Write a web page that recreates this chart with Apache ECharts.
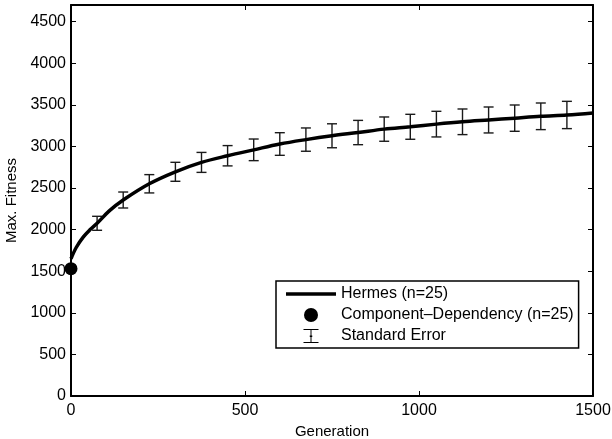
<!DOCTYPE html>
<html>
<head>
<meta charset="utf-8">
<script src="https://cdn.jsdelivr.net/npm/echarts@6/dist/echarts.min.js"></script>
<style>html,body{margin:0;padding:0;background:#fff;}#c{width:612px;height:439px;}</style>
</head>
<body>
<div id="c"></div>
<script>
// Hermes mean curve (generation, max fitness)
const lineGens = [0, 15, 35, 55, 75, 110, 150, 225, 300, 375, 450, 525, 600, 675, 750, 825, 900, 975, 1050, 1125, 1200, 1275, 1350, 1425, 1500];
const lineVals = [1650, 1785, 1910, 2000, 2076, 2225, 2356, 2551, 2695, 2808, 2888, 2959, 3029, 3082, 3128, 3167, 3208, 3236, 3268, 3296, 3318, 3340, 3362, 3378, 3402];
// Standard error bars
const errGens = [75, 150, 225, 300, 375, 450, 525, 600, 675, 750, 825, 900, 975, 1050, 1125, 1200, 1275, 1350, 1425];
const errMeans = [2076, 2356, 2551, 2695, 2808, 2888, 2959, 3029, 3082, 3128, 3167, 3208, 3236, 3268, 3296, 3318, 3340, 3362, 3378];
const errHalf = [84, 96, 110, 114, 120, 122, 130, 136, 140, 144, 146, 146, 150, 154, 154, 156, 158, 160, 164];
// Component-Dependency point
const cdGen = [0];
const cdVal = [1530];

const xTicks = { min: 0, max: 1500, interval: 500 };
const yTicks = { min: 0, max: 4700, interval: 500 };

const FONT = 'Liberation Sans, Arial, Helvetica, sans-serif';
const chart = echarts.init(document.getElementById('c'), null, { renderer: 'canvas' });

const axisCommon = {
  axisLine: { show: true, onZero: false, lineStyle: { color: '#000', width: 2 } },
  axisTick: { show: true, inside: true, length: 5, lineStyle: { color: '#000', width: 1 } },
  splitLine: { show: false }
};
const plain = v => String(v);

const option = {
  animation: false,
  backgroundColor: '#fff',
  grid: { left: 71, right: 19, top: 5, bottom: 43, containLabel: false, outerBoundsMode: 'none' },
  xAxis: [
    Object.assign({
      type: 'value', position: 'bottom', min: xTicks.min, max: xTicks.max, interval: xTicks.interval,
      name: 'Generation', nameLocation: 'middle', nameGap: 23,
      nameTextStyle: { fontFamily: FONT, fontSize: 15, color: '#000' },
      axisLabel: { fontFamily: FONT, fontSize: 16, color: '#000', margin: 7, formatter: plain }
    }, axisCommon),
    Object.assign({
      type: 'value', position: 'top', min: xTicks.min, max: xTicks.max, interval: xTicks.interval,
      axisLabel: { show: false }
    }, axisCommon)
  ],
  yAxis: [
    Object.assign({
      type: 'value', position: 'left', min: yTicks.min, max: yTicks.max, interval: yTicks.interval,
      name: 'Max. Fitness', nameLocation: 'middle', nameGap: 50,
      nameTextStyle: { fontFamily: FONT, fontSize: 15, color: '#000' },
      axisLabel: { fontFamily: FONT, fontSize: 16, color: '#000', margin: 5, showMaxLabel: false, formatter: plain }
    }, axisCommon),
    Object.assign({
      type: 'value', position: 'right', min: yTicks.min, max: yTicks.max, interval: yTicks.interval,
      axisLabel: { show: false }
    }, axisCommon)
  ],
  legend: {
    orient: 'vertical', left: 276, top: 281,
    padding: [5, 5, 4, 10], itemGap: 5, itemWidth: 50, itemHeight: 14,
    backgroundColor: '#fff', borderColor: '#000', borderWidth: 1.5, borderRadius: 0,
    textStyle: { fontFamily: FONT, fontSize: 16, color: '#000' },
    selectedMode: false,
    data: [
      { name: 'Hermes (n=25)', icon: 'path://M0 0H50V3.5H0Z', itemStyle: { color: '#000', opacity: 1 } },
      { name: 'Component\u2013Dependency (n=25)', icon: 'circle', itemStyle: { color: '#000', opacity: 1 } },
      { name: 'Standard Error', icon: 'path://M0 0H30V2H16V13H17.5V16H16V26H30V28H0V26H14V16H12.5V13H14V2H0Z', itemStyle: { color: '#000', opacity: 1 } }
    ]
  },
  series: [
    {
      name: 'Standard Error', type: 'custom', xAxisIndex: 0, yAxisIndex: 0, z: 2,
      itemStyle: { color: '#000' },
      data: errGens.map((g, i) => [g, errMeans[i] - errHalf[i], errMeans[i] + errHalf[i]]),
      renderItem: function (params, api) {
        const x = api.value(0);
        const lo = api.coord([x, api.value(1)]);
        const hi = api.coord([x, api.value(2)]);
        const w = 5;
        const st = { stroke: '#1a1a1a', lineWidth: 1.4 };
        return {
          type: 'group',
          children: [
            { type: 'line', shape: { x1: lo[0], y1: lo[1], x2: hi[0], y2: hi[1] }, style: st },
            { type: 'line', shape: { x1: lo[0] - w, y1: lo[1], x2: lo[0] + w, y2: lo[1] }, style: st },
            { type: 'line', shape: { x1: hi[0] - w, y1: hi[1], x2: hi[0] + w, y2: hi[1] }, style: st }
          ]
        };
      }
    },
    {
      name: 'Hermes (n=25)', type: 'line', xAxisIndex: 0, yAxisIndex: 0, z: 3,
      data: lineGens.map((g, i) => [g, lineVals[i]]),
      smooth: 0.35, symbol: 'none', showSymbol: false,
      lineStyle: { color: '#000', width: 3.5 }, itemStyle: { color: '#000' }
    },
    {
      name: 'Component\u2013Dependency (n=25)', type: 'scatter', xAxisIndex: 0, yAxisIndex: 0, z: 4,
      clip: false, symbol: 'circle', symbolSize: 13,
      data: cdGen.map((g, i) => [g, cdVal[i]]),
      itemStyle: { color: '#000', opacity: 1 }
    }
  ]
};
chart.setOption(option);
</script>
</body>
</html>
